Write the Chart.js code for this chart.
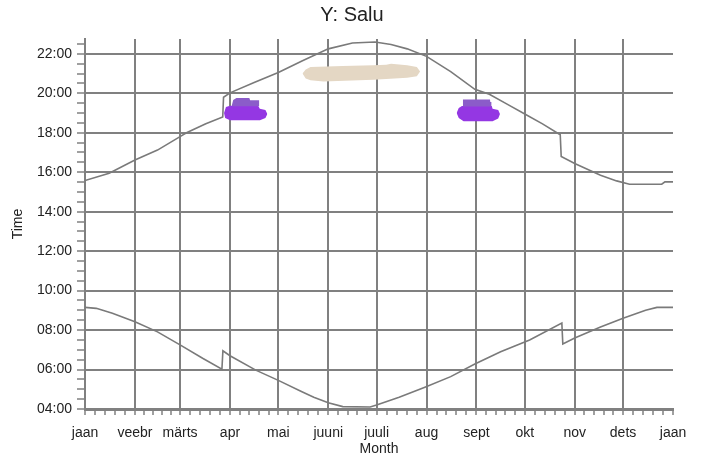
<!DOCTYPE html>
<html lang="et">
<head>
  <meta charset="UTF-8">
  <title>Y: Salu</title>
  <script src="https://cdn.jsdelivr.net/npm/chart.js"></script>
  <style>
    body { margin: 0; background: #fff; }
    .container { width: 704px; height: 462px; }
  </style>
</head>
<body>
  <div class="container">
    <canvas id="myChart" width="704" height="462"></canvas>
  </div>
  <script>
    // months (day of year where each month starts)
    const monthNames = ['jaan', 'veebr', 'märts', 'apr', 'mai', 'juuni', 'juuli', 'aug', 'sept', 'okt', 'nov', 'dets', 'jaan']
    const monthStarts = [0, 31, 59, 90, 120, 151, 181, 212, 243, 273, 304, 334, 365]

    // sunset (hours)
    const sunsetDays = [0, 15, 31, 45, 59, 63, 75, 85.5, 86, 90, 105, 120, 135, 151, 166, 180, 190, 200, 212, 227, 242, 251, 262, 273, 284, 295, 295.6, 304, 320, 330, 338, 358, 360, 365]
    const sunsetTimes = [15.58, 15.95, 16.62, 17.12, 17.8, 18.0, 18.45, 18.8, 19.8, 20.02, 20.55, 21.05, 21.65, 22.25, 22.55, 22.6, 22.47, 22.25, 21.87, 21.1, 20.2, 19.95, 19.45, 18.95, 18.45, 17.9, 16.8, 16.44, 15.85, 15.56, 15.39, 15.39, 15.51, 15.51]

    // sunrise (hours)
    const sunriseDays = [0, 7, 17, 31, 45, 59, 73, 85, 85.6, 90, 106, 120, 134, 142, 151, 160, 177, 181, 195, 211, 227, 242, 258, 276, 296, 296.6, 304, 320, 334, 348, 355, 365]
    const sunriseTimes = [9.15, 9.1, 8.85, 8.42, 7.91, 7.25, 6.57, 6.02, 6.95, 6.7, 5.97, 5.45, 4.9, 4.6, 4.32, 4.12, 4.1, 4.2, 4.59, 5.1, 5.64, 6.28, 6.9, 7.5, 8.35, 7.3, 7.6, 8.15, 8.6, 9.0, 9.15, 9.15]

    // observation patches: top and bottom edges
    const beigeTopDays = [135, 137, 140, 160, 179, 187, 190, 200, 206, 208]
    const beigeTopTimes = [21.0, 21.2, 21.33, 21.38, 21.42, 21.45, 21.5, 21.42, 21.33, 21.1]
    const beigeBottomDays = [135, 137, 140, 148, 179, 200, 206, 208]
    const beigeBottomTimes = [21.0, 20.75, 20.66, 20.6, 20.69, 20.78, 20.86, 21.1]

    const aprTopDays = [86.3, 87.5, 90, 107.5, 108.5, 112, 113.2]
    const aprTopTimes = [19.0, 19.3, 19.37, 19.37, 19.22, 19.15, 18.95]
    const aprBottomDays = [86.3, 87, 90, 108.6, 112, 113.2]
    const aprBottomTimes = [19.0, 18.75, 18.63, 18.63, 18.75, 18.95]
    const aprCapTopDays = [91, 92, 94, 102, 102.5, 108.2]
    const aprCapTopTimes = [19.34, 19.66, 19.76, 19.76, 19.64, 19.64]
    const aprCapBottomDays = [91, 108.2]
    const aprCapBottomTimes = [19.34, 19.34]

    const septTopDays = [230.7, 232, 234, 252.5, 253, 256.5, 257.6]
    const septTopTimes = [19.0, 19.25, 19.36, 19.36, 19.22, 19.15, 18.95]
    const septBottomDays = [230.7, 232, 235, 253, 256.5, 257.6]
    const septBottomTimes = [19.0, 18.75, 18.58, 18.58, 18.72, 18.95]
    const septCapTopDays = [234.4, 234.6, 251.4, 251.6, 252.4]
    const septCapTopTimes = [19.33, 19.68, 19.68, 19.56, 19.56]
    const septCapBottomDays = [234.4, 252.4]
    const septCapBottomTimes = [19.33, 19.33]

    const GRID = '#808080'
    const LINE = '#7a7a7a'
    const TEXT = '#222'

    function pts(days, times) {
      return days.map((d, i) => ({ x: d, y: times[i] }))
    }

    function curve(days, times) {
      return {
        data: pts(days, times),
        borderColor: LINE,
        borderWidth: 1.6,
        pointRadius: 0,
        fill: false
      }
    }

    // top edge filled down to the next dataset (bottom edge)
    function patch(topD, topT, botD, botT, color) {
      return [
        { data: pts(topD, topT), borderWidth: 0, pointRadius: 0, backgroundColor: color, fill: '+1' },
        { data: pts(botD, botT), borderWidth: 0, pointRadius: 0, fill: false }
      ]
    }

    // ticks: month starts + 4 minor ticks per month
    const xTicks = []
    for (let m = 0; m < 12; m++) {
      const s = monthStarts[m], len = monthStarts[m + 1] - s
      xTicks.push(s)
      for (let k = 1; k < 5; k++) xTicks.push(s + len * k / 5)
    }
    xTicks.push(365)

    const yTicks = []
    for (let h = 4; h <= 22.5; h += 0.5) yTicks.push(h)

    const isMonth = v => monthStarts.indexOf(v) >= 0

    const ctx = document.getElementById('myChart')
    new Chart(ctx, {
      type: 'line',
      data: {
        datasets: [
          curve(sunsetDays, sunsetTimes),
          curve(sunriseDays, sunriseTimes),
          ...patch(aprCapTopDays, aprCapTopTimes, aprCapBottomDays, aprCapBottomTimes, '#8b5cc9'),
          ...patch(septCapTopDays, septCapTopTimes, septCapBottomDays, septCapBottomTimes, '#8b5cc9'),
          ...patch(aprTopDays, aprTopTimes, aprBottomDays, aprBottomTimes, '#9437e3'),
          ...patch(septTopDays, septTopTimes, septBottomDays, septBottomTimes, '#9437e3'),
          ...patch(beigeTopDays, beigeTopTimes, beigeBottomDays, beigeBottomTimes, '#e4d7c4')
        ]
      },
      options: {
        responsive: false,
        animation: false,
        layout: { padding: 0 },
        plugins: {
          legend: { display: false },
          tooltip: { enabled: false },
          title: {
            display: true,
            text: 'Y: Salu',
            color: TEXT,
            font: { family: 'Liberation Sans', size: 20, weight: 'normal' },
            padding: { top: 3, bottom: 12 }
          }
        },
        scales: {
          x: {
            type: 'linear',
            min: 0,
            max: 365,
            afterBuildTicks: s => { s.ticks = xTicks.map(v => ({ value: v })) },
            afterFit: s => { s.height = 53; s.paddingRight = 31 },
            ticks: {
              autoSkip: false,
              maxRotation: 0,
              padding: 10,
              color: TEXT,
              font: { family: 'Liberation Sans', size: 14 },
              callback: (v, i) => isMonth(v) ? monthNames[monthStarts.indexOf(v) === 0 && i > 0 ? 12 : monthStarts.indexOf(v)] : ''
            },
            grid: {
              color: c => (c.tick && isMonth(c.tick.value) && c.tick.value !== 365) ? GRID : 'rgba(0,0,0,0)',
              lineWidth: 2,
              tickColor: GRID,
              tickWidth: 1.5,
              tickLength: 6
            },
            border: { color: GRID, width: 3 },
            title: {
              display: true,
              text: 'Month',
              color: TEXT,
              font: { family: 'Liberation Sans', size: 14 },
              padding: { top: 0, bottom: 4 }
            }
          },
          y: {
            min: 4,
            max: 22.75,
            afterBuildTicks: s => { s.ticks = yTicks.map(v => ({ value: v })) },
            afterFit: s => { s.width = 85 },
            ticks: {
              autoSkip: false,
              padding: 5,
              color: TEXT,
              font: { family: 'Liberation Sans', size: 14 },
              callback: v => (v % 2 === 0) ? String(v).padStart(2, '0') + ':00' : ''
            },
            grid: {
              color: c => (c.tick && c.tick.value % 2 === 0) ? GRID : 'rgba(0,0,0,0)',
              lineWidth: 2,
              tickColor: GRID,
              tickWidth: 1.5,
              tickLength: 8
            },
            border: { color: GRID, width: 2 },
            title: {
              display: true,
              text: 'Time',
              color: TEXT,
              font: { family: 'Liberation Sans', size: 14 },
              padding: { top: 10, bottom: 0 }
            }
          }
        }
      }
    })
  </script>
</body>
</html>
